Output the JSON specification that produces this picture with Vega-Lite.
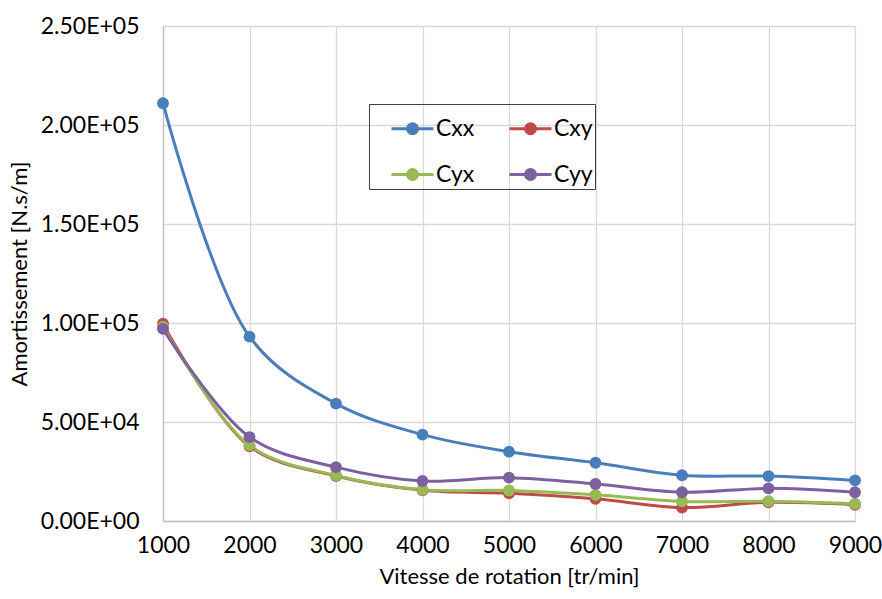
{
  "$schema": "https://vega.github.io/schema/vega-lite/v6.json",
  "width": 692,
  "height": 495,
  "autosize": {"type": "none"},
  "padding": {"left": 163, "top": 26, "right": 27, "bottom": 78},
  "background": "white",
  "config": {
    "view": {"stroke": null},
    "font": "Lato",
    "axis": {"labelFont": "Lato", "titleFont": "Lato", "labelColor": "#000000", "titleColor": "#000000", "titleFontWeight": "normal", "gridColor": "#D9D9D9", "gridWidth": 1.3, "domainColor": "#BFBFBF", "domainWidth": 1.3, "ticks": false}
  },
  "data": {
    "values": [
      {"rpm": 1000, "s": "Cxx", "v": 211000},
      {"rpm": 2000, "s": "Cxx", "v": 93100},
      {"rpm": 3000, "s": "Cxx", "v": 59300},
      {"rpm": 4000, "s": "Cxx", "v": 43600},
      {"rpm": 5000, "s": "Cxx", "v": 35000},
      {"rpm": 6000, "s": "Cxx", "v": 29400},
      {"rpm": 7000, "s": "Cxx", "v": 23100},
      {"rpm": 8000, "s": "Cxx", "v": 22700},
      {"rpm": 9000, "s": "Cxx", "v": 20500},
      {"rpm": 1000, "s": "Cxy", "v": 99700},
      {"rpm": 2000, "s": "Cxy", "v": 37700},
      {"rpm": 3000, "s": "Cxy", "v": 22700},
      {"rpm": 4000, "s": "Cxy", "v": 15500},
      {"rpm": 5000, "s": "Cxy", "v": 14000},
      {"rpm": 6000, "s": "Cxy", "v": 11200},
      {"rpm": 7000, "s": "Cxy", "v": 6800},
      {"rpm": 8000, "s": "Cxy", "v": 9400},
      {"rpm": 9000, "s": "Cxy", "v": 8200},
      {"rpm": 1000, "s": "Cyx", "v": 98200},
      {"rpm": 2000, "s": "Cyx", "v": 38200},
      {"rpm": 3000, "s": "Cyx", "v": 23000},
      {"rpm": 4000, "s": "Cyx", "v": 15800},
      {"rpm": 5000, "s": "Cyx", "v": 15400},
      {"rpm": 6000, "s": "Cyx", "v": 13200},
      {"rpm": 7000, "s": "Cyx", "v": 9900},
      {"rpm": 8000, "s": "Cyx", "v": 10000},
      {"rpm": 9000, "s": "Cyx", "v": 8700},
      {"rpm": 1000, "s": "Cyy", "v": 97000},
      {"rpm": 2000, "s": "Cyy", "v": 42400},
      {"rpm": 3000, "s": "Cyy", "v": 27200},
      {"rpm": 4000, "s": "Cyy", "v": 20200},
      {"rpm": 5000, "s": "Cyy", "v": 21900},
      {"rpm": 6000, "s": "Cyy", "v": 18700},
      {"rpm": 7000, "s": "Cyy", "v": 14500},
      {"rpm": 8000, "s": "Cyy", "v": 16500},
      {"rpm": 9000, "s": "Cyy", "v": 14500}
    ]
  },
  "encoding": {
    "x": {"field": "rpm", "type": "quantitative", "title": "Vitesse de rotation [tr/min]",
      "scale": {"domain": [1000, 9000], "nice": false, "zero": false},
      "axis": {"values": [1000, 2000, 3000, 4000, 5000, 6000, 7000, 8000, 9000], "format": "d", "labelFontSize": 23, "titleFontSize": 22, "labelPadding": 13, "titlePadding": 9, "grid": true, "labelFlush": false}},
    "y": {"field": "v", "type": "quantitative", "title": "Amortissement [N.s/m]",
      "scale": {"domain": [0, 250000], "nice": false},
      "axis": {"values": [0, 50000, 100000, 150000, 200000, 250000], "labelExpr": "replace(upper(format(datum.value, '.2e')), /E\\+(\\d)$/, 'E+0$1')", "labelFontSize": 23, "titleFontSize": 22, "labelPadding": 24, "titlePadding": 9, "grid": true}},
    "color": {"field": "s", "type": "nominal", "title": null,
      "scale": {"domain": ["Cxx", "Cxy", "Cyx", "Cyy"], "range": ["#4A7EBB", "#BE4B48", "#98B954", "#7D60A0"]}}
  },
  "layer": [
    {"mark": {"type": "line", "interpolate": "catmull-rom", "strokeWidth": 3}, "encoding": {}},
    {"mark": {"type": "point", "filled": true, "opacity": 1, "size": 140},
      "encoding": {
        "color": {"field": "s", "type": "nominal",
          "legend": {"orient": "none", "legendX": 206, "legendY": 78, "direction": "horizontal", "columns": 2, "strokeColor": "#404040", "padding": 2, "symbolOffset": 19, "columnPadding": 14, "rowPadding": 11, "labelFontSize": 23, "labelFont": "Lato", "labelColor": "#000000", "labelOffset": 1, "symbolType": "M-1,0L1,0M-0.24,0A0.24,0.24,0,1,1,0.24,0A0.24,0.24,0,1,1,-0.24,0Z", "symbolSize": 1764, "symbolStrokeWidth": 3,
            "encode": {"symbols": {"update": {"stroke": {"scale": "color", "field": "value"}, "fill": {"scale": "color", "field": "value"}, "opacity": {"value": 1}}}}}
        }}
    }
  ]
}
